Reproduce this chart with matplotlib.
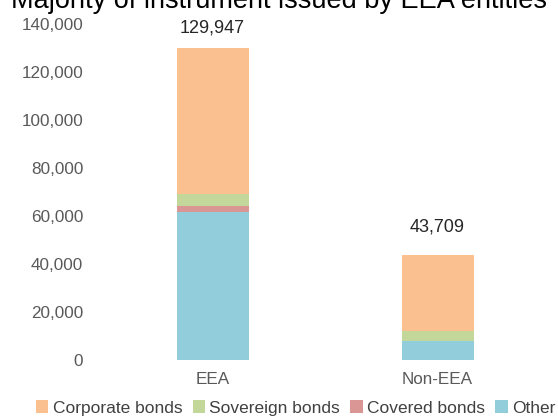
import matplotlib
matplotlib.use("Agg")
import matplotlib.pyplot as plt
from matplotlib.ticker import FuncFormatter
from matplotlib.transforms import offset_copy

categories = ["EEA", "Non-EEA"]
series = ["Corporate bonds", "Sovereign bonds", "Covered bonds", "Other"]
other = [61500, 7900]
covered = [2600, 0]
sovereign = [5100, 4200]
corporate = [60747, 31609]
totals = [129947, 43709]

colors = {"Corporate bonds": "#FAC090", "Sovereign bonds": "#C4D79B",
          "Covered bonds": "#DA9694", "Other": "#92CDDC"}

plt.rcParams["font.family"] = ["Liberation Sans", "DejaVu Sans"]

fig = plt.figure(figsize=(5.58, 4.17), dpi=100)
ax = fig.add_axes([100 / 558, 57 / 417, 450 / 558, 336 / 417])

x = list(range(len(categories)))
w = 0.32
# stack from bottom: other, covered, sovereign, corporate
stack = [("Other", other), ("Covered bonds", covered),
         ("Sovereign bonds", sovereign), ("Corporate bonds", corporate)]
bottom = [0] * len(categories)
handles = {}
for name, vals in stack:
    b = ax.bar(x, vals, w, bottom=bottom, color=colors[name], label=name)
    handles[name] = b
    bottom = [bo + v for bo, v in zip(bottom, vals)]

# total labels, gap above bar in pixels
gaps = [12, 20]
for xi, t, g in zip(x, totals, gaps):
    tr = offset_copy(ax.transData, fig=fig, x=0, y=g * 72 / 100, units="points")
    ax.text(xi, t, f"{t:,}", ha="center", va="bottom", transform=tr,
            fontsize=13, color="#262626")

ax.set_xlim(-0.5, 1.5)
ax.set_ylim(0, 140000)
ax.set_yticks(range(0, 140001, 20000))
ax.yaxis.set_major_formatter(FuncFormatter(lambda v, p: f"{int(v):,}"))
ax.set_xticks(x)
ax.set_xticklabels(categories)
ax.tick_params(length=0, labelsize=12.3, labelcolor="#595959")
ax.tick_params(axis="y", pad=12)
ax.tick_params(axis="x", pad=9)
for s in ax.spines.values():
    s.set_visible(False)

fig.text(0.5, 1 - 8 / 417, "Majority of instrument issued by EEA entities",
         ha="center", va="baseline", fontsize=19.5, color="#000000")

fig.legend([handles[n] for n in series], series, loc="center",
           bbox_to_anchor=(0.53, 9 / 417), ncol=4,
           frameon=False, fontsize=12.5, handlelength=0.7, handleheight=0.7,
           handletextpad=0.25, columnspacing=0.6, labelcolor="#404040")

fig.savefig("out.png", dpi=100)
